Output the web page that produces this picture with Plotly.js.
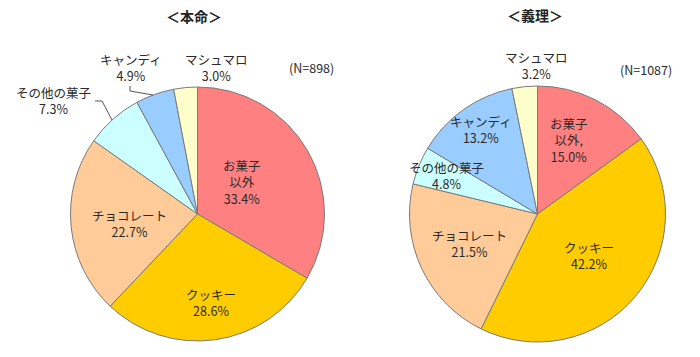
<!DOCTYPE html>
<html>
<head>
<meta charset="utf-8">
<script src="https://cdn.plot.ly/plotly-3.0.1.min.js"></script>
<style>html,body{margin:0;padding:0;background:#fff;}#chart{width:700px;height:357px;}</style>
</head>
<body>
<div id="chart"></div>
<script>
// Data
const categories = ["お菓子以外", "クッキー", "チョコレート", "その他の菓子", "キャンディ", "マシュマロ"];
const honmeiValues = [33.4, 28.6, 22.7, 7.3, 4.9, 3.0];
const giriValues = [15.0, 42.2, 21.5, 4.8, 13.2, 3.2];
const sliceColors = ["#FF8080", "#FFCC00", "#FFCC99", "#CCFFFF", "#99CCFF", "#FFFFCC"];
const panelTitles = ["＜本命＞", "＜義理＞"];
const sampleSizes = ["(N=898)", "(N=1087)"];
// label display text (line breaks for お菓子以外)
const honmeiLabelText = ["お菓子<br>以外", "クッキー", "チョコレート", "その他の菓子", "キャンディ", "マシュマロ"];
const giriLabelText = ["お菓子<br>以外,", "クッキー", "チョコレート", "その他の菓子", "キャンディ", "マシュマロ"];

const W = 700, H = 357;
const px = x => x / W;
const py = y => 1 - y / H;

function pieTrace(values, dom) {
  return {
    type: 'pie',
    labels: categories,
    values: values,
    sort: false,
    direction: 'clockwise',
    rotation: 0,
    marker: {colors: sliceColors, line: {color: '#7a7a7a', width: 1}},
    textinfo: 'none',
    hoverinfo: 'label+percent',
    showlegend: false,
    domain: dom
  };
}

const data = [
  pieTrace(honmeiValues, {x: [px(70), px(325)], y: [py(341), py(87)]}),
  pieTrace(giriValues, {x: [px(408), px(667)], y: [py(342), py(86)]})
];

// label positions (pixel centres) per slice
const honmeiPos = [[242, 182], [211, 302], [129, 223], [53, 100], [131, 67], [216, 67]];
const giriPos = [[569, 140], [589, 255], [469, 243], [446, 175], [481, 129], [536, 65]];

const font = {family: '"Noto Sans CJK JP", "Noto Sans", sans-serif', size: 12.5, color: '#2a2a2a'};
const annotations = [];
function addLabels(texts, values, pos) {
  texts.forEach((t, i) => {
    annotations.push({
      xref: 'paper', yref: 'paper', x: px(pos[i][0]), y: py(pos[i][1]),
      text: t + '<br>' + values[i].toFixed(1) + '%',
      showarrow: false, font: font, xanchor: 'center', yanchor: 'middle', align: 'center'
    });
  });
}
addLabels(honmeiLabelText, honmeiValues, honmeiPos);
addLabels(giriLabelText, giriValues, giriPos);

annotations.push({xref: 'paper', yref: 'paper', x: px(194), y: py(16), text: panelTitles[0], showarrow: false,
  font: {family: '"Noto Sans CJK JP", sans-serif', size: 14, color: '#222', weight: 'bold'}, xanchor: 'center', yanchor: 'middle'});
annotations.push({xref: 'paper', yref: 'paper', x: px(535), y: py(15), text: panelTitles[1], showarrow: false,
  font: {family: '"Noto Sans CJK JP", sans-serif', size: 14, color: '#222', weight: 'bold'}, xanchor: 'center', yanchor: 'middle'});
annotations.push({xref: 'paper', yref: 'paper', x: px(311), y: py(67), text: sampleSizes[0], showarrow: false,
  font: font, xanchor: 'center', yanchor: 'middle'});
annotations.push({xref: 'paper', yref: 'paper', x: px(646), y: py(70), text: sampleSizes[1], showarrow: false,
  font: font, xanchor: 'center', yanchor: 'middle'});

// leader lines
function pth(points) {
  return 'M ' + points.map(p => px(p[0]) + ',' + py(p[1])).join(' L ');
}
const shapes = [
  {type: 'path', xref: 'paper', yref: 'paper', path: pth([[130, 86], [130, 91], [153, 95]]), line: {color: '#555', width: 1}},
  {type: 'path', xref: 'paper', yref: 'paper', path: pth([[95, 101], [102, 101], [112, 120]]), line: {color: '#555', width: 1}}
];

const layout = {
  width: W, height: H,
  margin: {l: 0, r: 0, t: 0, b: 0},
  paper_bgcolor: '#fff',
  annotations: annotations,
  shapes: shapes
};

Plotly.newPlot('chart', data, layout, {displayModeBar: false, staticPlot: true});
</script>
</body>
</html>
